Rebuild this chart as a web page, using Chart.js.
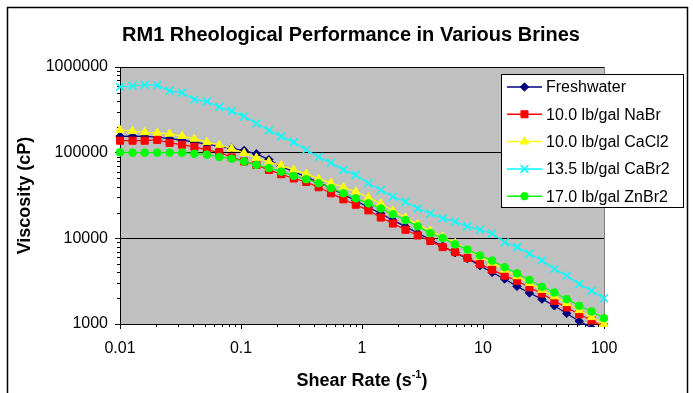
<!DOCTYPE html>
<html lang="en">
<head>
    <meta charset="UTF-8">
    <title>RM1 Rheological Performance in Various Brines</title>
    <style>
        body {
            margin: 0;
            background-color: #fff;
            font-family: Arial, "Liberation Sans", sans-serif;
        }
        canvas {
            display: block;
        }
    </style>
    <script src="https://cdn.jsdelivr.net/npm/chart.js"></script>
</head>
<body>
    <canvas id="grafica" width="693" height="393"></canvas>

    <script>
        // shear rate (1/s), same for every brine
        const shearRate = [0.01, 0.0127, 0.016, 0.0203, 0.0257, 0.0326, 0.0412, 0.0522, 0.0661, 0.0838,
            0.106, 0.134, 0.17, 0.215, 0.273, 0.346, 0.438, 0.554, 0.702, 0.889,
            1.13, 1.43, 1.8, 2.29, 2.89, 3.67, 4.64, 5.88, 7.44, 9.43,
            11.9, 15.1, 19.1, 24.2, 30.7, 38.9, 49.2, 62.4, 79, 100];

        const seriesNames = ['Freshwater', '10.0 lb/gal NaBr', '10.0 lb/gal CaCl2', '13.5 lb/gal CaBr2', '17.0 lb/gal ZnBr2'];

        // viscosity (cP)
        const freshwater = [155000, 156000, 155000, 152000, 146000, 140000, 133000, 126000, 118000, 112000,
            106000, 97000, 83000, 69000, 60000, 52000, 45000, 38500, 32500, 27500,
            23000, 19500, 16300, 13700, 11500, 9700, 8100, 6800, 5800, 4800,
            4000, 3350, 2750, 2300, 1950, 1630, 1330, 1080, 900, 750];
        const nabr = [138000, 138000, 138000, 141000, 130000, 124000, 117000, 108000, 101000, 88000,
            79000, 72000, 63000, 56000, 50000, 45500, 39500, 33600, 28500, 24700,
            21200, 17500, 14900, 12600, 10800, 9300, 7900, 6900, 5900, 5000,
            4300, 3670, 3200, 2670, 2270, 1860, 1560, 1300, 1100, 920];
        const cacl2 = [184000, 178000, 173000, 170000, 166000, 156000, 145000, 133000, 123000, 111000,
            99000, 87000, 78000, 71000, 63000, 56500, 49500, 44500, 39500, 35000,
            30000, 25500, 21000, 17500, 14600, 12200, 10500, 8800, 7400, 6100,
            5200, 4300, 3600, 3000, 2500, 2100, 1750, 1450, 1200, 1000];
        const cabr2 = [586000, 600000, 620000, 612000, 527000, 500000, 417000, 395000, 341000, 306000,
            265000, 219000, 183000, 155000, 132000, 108000, 89000, 76000, 63000, 55000,
            44000, 36700, 30600, 26700, 22300, 19500, 17100, 15600, 13800, 12600,
            11400, 9000, 7900, 6600, 5500, 4400, 3670, 2930, 2450, 2000];
        const znbr2 = [101000, 100000, 100000, 100000, 100000, 100000, 97000, 95000, 89000, 85000,
            79000, 72000, 66000, 60000, 53600, 49000, 44000, 38500, 33600, 29300,
            25600, 22300, 19100, 16300, 13800, 11500, 10100, 8500, 7400, 6300,
            5500, 4600, 3900, 3270, 2720, 2330, 1950, 1630, 1400, 1170];

        const xTicks = [0.01, 0.1, 1, 10, 100];
        const xTickLabels = ['0.01', '0.1', '1', '10', '100'];
        const yTicks = [1000, 10000, 100000, 1000000];
        const yTickLabels = ['1000', '10000', '100000', '1000000'];

        const estilos = [
            { color: '#000080', punto: 'rectRot', radio: 4.2 },
            { color: '#ff0000', punto: 'rect', radio: 5 },
            { color: '#ffff00', punto: 'triangle', radio: 4.8 },
            { color: '#00ffff', punto: 'crossRot', radio: 5.6 },
            { color: '#00ff00', punto: 'circle', radio: 3.8 }
        ];

        function indiceTick(v, lista) {
            return lista.findIndex(t => Math.abs(v / t - 1) < 1e-6);
        }

        function puntos(valores) {
            return shearRate.map((x, i) => ({ x: x, y: valores[i] }));
        }

        const datos = [freshwater, nabr, cacl2, cabr2, znbr2];
        const datasets = datos.map((serie, i) => ({
            label: seriesNames[i],
            data: puntos(serie),
            borderColor: estilos[i].color,
            backgroundColor: estilos[i].color,
            pointBackgroundColor: estilos[i].color,
            pointBorderColor: estilos[i].color,
            pointStyle: estilos[i].punto,
            pointRadius: estilos[i].radio,
            pointBorderWidth: estilos[i].punto === 'crossRot' ? 1.5 : 1,
            borderWidth: 1.2,
            tension: 0,
            order: 5 - i,
            clip: { left: 8, top: 8, right: 8, bottom: 3 }
        }));

        const fuenteTicks = { family: 'Arial, "Liberation Sans", sans-serif', size: 16 };

        // fondo, marco, títulos, leyenda y marcas menores
        const decorado = {
            id: 'decorado',
            beforeDraw(chart) {
                const c = chart.ctx;
                const a = chart.chartArea;
                c.save();
                c.fillStyle = '#c0c0c0';
                c.fillRect(a.left, a.top, a.right - a.left, a.bottom - a.top);
                c.restore();
            },
            beforeDatasetsDraw(chart) {
                const c = chart.ctx;
                const a = chart.chartArea;
                c.save();
                c.strokeStyle = '#808080';
                c.lineWidth = 1;
                c.beginPath();
                c.moveTo(a.right + 0.5, a.top);
                c.lineTo(a.right + 0.5, a.bottom);
                c.stroke();

                // marcas menores
                c.strokeStyle = '#000';
                const sx = chart.scales.x;
                const sy = chart.scales.y;
                c.beginPath();
                for (let e = -2; e < 2; e++) {
                    for (let m = 2; m <= 9; m++) {
                        const px = Math.round(sx.getPixelForValue(m * Math.pow(10, e))) + 0.5;
                        c.moveTo(px, a.bottom);
                        c.lineTo(px, a.bottom + 3);
                    }
                }
                for (let e = 3; e < 6; e++) {
                    for (let m = 2; m <= 9; m++) {
                        const py = Math.round(sy.getPixelForValue(m * Math.pow(10, e))) + 0.5;
                        c.moveTo(a.left, py);
                        c.lineTo(a.left - 3, py);
                    }
                }
                c.stroke();
                c.restore();
            },
            afterDraw(chart) {
                const c = chart.ctx;
                const a = chart.chartArea;
                c.save();

                // marco
                c.strokeStyle = '#000';
                c.lineWidth = 1.5;
                c.strokeRect(7.5, 7.5, 680, 400);

                // título
                c.fillStyle = '#000';
                c.textAlign = 'center';
                c.textBaseline = 'middle';
                c.font = 'bold 20px Arial, "Liberation Sans", sans-serif';
                c.fillText('RM1 Rheological Performance in Various Brines', 351, 35);

                // título eje x con superíndice
                const base = 'Shear Rate (s';
                const sup = '-1';
                const fin = ')';
                c.font = 'bold 18px Arial, "Liberation Sans", sans-serif';
                const w1 = c.measureText(base).width;
                const w3 = c.measureText(fin).width;
                c.font = 'bold 11px Arial, "Liberation Sans", sans-serif';
                const w2 = c.measureText(sup).width;
                let x0 = (a.left + a.right) / 2 - (w1 + w2 + w3) / 2;
                const y0 = 380;
                c.textAlign = 'left';
                c.textBaseline = 'alphabetic';
                c.font = 'bold 18px Arial, "Liberation Sans", sans-serif';
                c.fillText(base, x0, y0 + 6);
                c.font = 'bold 11px Arial, "Liberation Sans", sans-serif';
                c.fillText(sup, x0 + w1, y0 - 2);
                c.font = 'bold 18px Arial, "Liberation Sans", sans-serif';
                c.fillText(fin, x0 + w1 + w2, y0 + 6);

                // leyenda
                const lx = 501, ly = 74, lw = 182, lh = 133;
                c.fillStyle = '#fff';
                c.fillRect(lx, ly, lw, lh);
                c.strokeStyle = '#000';
                c.lineWidth = 1;
                c.strokeRect(lx + 0.5, ly + 0.5, lw, lh);
                c.font = '16px Arial, "Liberation Sans", sans-serif';
                c.textBaseline = 'middle';
                chart.data.datasets.forEach((ds, i) => {
                    const y = 87 + i * 27.3;
                    c.strokeStyle = ds.borderColor;
                    c.lineWidth = 1.5;
                    c.beginPath();
                    c.moveTo(507, y);
                    c.lineTo(542, y);
                    c.stroke();
                    c.fillStyle = ds.pointBackgroundColor;
                    c.lineWidth = ds.pointBorderWidth;
                    Chart.helpers.drawPoint(c, {
                        pointStyle: ds.pointStyle,
                        radius: ds.pointRadius,
                        rotation: 0,
                        borderWidth: ds.pointBorderWidth
                    }, 524.5, y);
                    c.fillStyle = '#000';
                    c.fillText(ds.label, 546, y + 1);
                });
                c.restore();
            }
        };

        const ctx = document.getElementById('grafica').getContext('2d');
        const chart = new Chart(ctx, {
            type: 'line',
            data: { datasets: datasets },
            options: {
                responsive: false,
                animation: false,
                layout: { padding: { top: 67, right: 89, left: 0, bottom: 0 } },
                plugins: {
                    legend: { display: false },
                    tooltip: { enabled: false }
                },
                scales: {
                    x: {
                        type: 'logarithmic',
                        min: 0.01,
                        max: 100,
                        border: { display: true, color: '#000', width: 1 },
                        grid: {
                            drawOnChartArea: false,
                            drawTicks: true,
                            tickLength: 5,
                            tickColor: c => (c.tick && indiceTick(c.tick.value, xTicks) >= 0) ? '#000' : 'rgba(0,0,0,0)'
                        },
                        ticks: {
                            autoSkip: false,
                            maxRotation: 0,
                            padding: 10,
                            color: '#000',
                            font: fuenteTicks,
                            callback: v => {
                                const i = indiceTick(v, xTicks);
                                return i >= 0 ? xTickLabels[i] : '';
                            }
                        },
                        afterFit: s => { s.height = 69; }
                    },
                    y: {
                        type: 'logarithmic',
                        min: 1000,
                        max: 1000000,
                        border: { display: true, color: '#000', width: 1 },
                        grid: {
                            drawTicks: true,
                            tickLength: 5,
                            color: c => (c.tick && indiceTick(c.tick.value, yTicks) >= 0) ? '#000' : 'rgba(0,0,0,0)',
                            tickColor: c => (c.tick && indiceTick(c.tick.value, yTicks) >= 0) ? '#000' : 'rgba(0,0,0,0)'
                        },
                        ticks: {
                            autoSkip: false,
                            padding: 7,
                            color: '#000',
                            font: fuenteTicks,
                            callback: v => {
                                const i = indiceTick(v, yTicks);
                                return i >= 0 ? yTickLabels[i] : '';
                            }
                        },
                        title: {
                            display: true,
                            text: 'Viscosity (cP)',
                            color: '#000',
                            font: { family: 'Arial, "Liberation Sans", sans-serif', size: 18, weight: 'bold' },
                            padding: { top: 14, bottom: 0 }
                        },
                        afterFit: s => { s.width = 120; }
                    }
                }
            },
            plugins: [decorado]
        });
    </script>
</body>
</html>
